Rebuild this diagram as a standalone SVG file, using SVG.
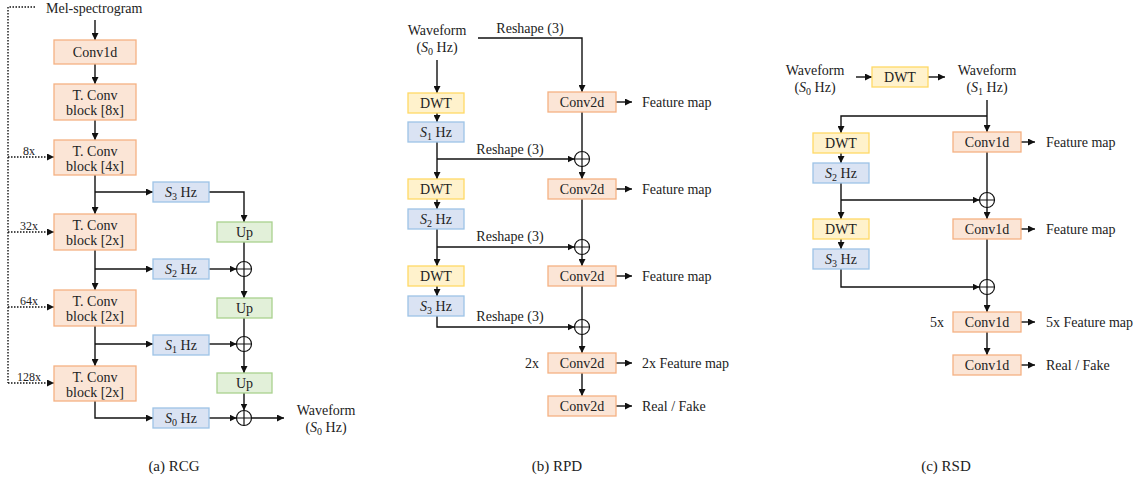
<svg xmlns="http://www.w3.org/2000/svg" width="1142" height="483" viewBox="0 0 1142 483" font-family="'Liberation Serif', Tinos, 'Times New Roman', 'DejaVu Serif', serif">
<style>
text{font-family:'Liberation Serif', Tinos, 'Times New Roman', 'DejaVu Serif', serif}
.t{font-size:14px;fill:#222}
.m{text-anchor:middle}
.s{font-size:12px}
.cap{font-size:15px}
.i{font-style:italic}
.sub{font-size:10px}
.or{fill:#fbe5d6;stroke:#f4b183;stroke-width:1.3}
.bl{fill:#dae3f3;stroke:#9dc3e6;stroke-width:1.3}
.gr{fill:#e2f0d9;stroke:#a9d18e;stroke-width:1.3}
.ye{fill:#fff2cc;stroke:#ffd966;stroke-width:1.3}
.ln{fill:none;stroke:#111;stroke-width:1.4}
.ar{marker-end:url(#ah)}
.dt{fill:none;stroke:#111;stroke-width:1.4;stroke-dasharray:1.5 1.5}
.pc{fill:#fff;stroke:#111;stroke-width:1.2}
</style>
<defs>
<marker id="ah" viewBox="0 0 7 7" refX="7" refY="3.5" markerWidth="7" markerHeight="7" markerUnits="userSpaceOnUse" orient="auto">
<path d="M0,0 L7,3.5 L0,7 z" fill="#111"/>
</marker>
<g id="plus"><circle r="7.5" class="pc"/><path d="M-7.5,0H7.5M0,-7.5V7.5" stroke="#111" stroke-width="1.2"/></g>
</defs>

<!-- connectors -->
<g id="connectors">
<!-- RCG -->
<path class="dt" d="M35,7 H8 V383"/>
<path class="dt ar" d="M8,157 H54"/>
<path class="dt ar" d="M8,232 H54"/>
<path class="dt ar" d="M8,307 H54"/>
<path class="dt ar" d="M8,383 H54"/>
<path class="ln ar" d="M95,20 V40"/>
<path class="ln ar" d="M95,64 V84"/>
<path class="ln ar" d="M95,120 V140"/>
<path class="ln ar" d="M95,175 V214"/>
<path class="ln ar" d="M95,250 V290"/>
<path class="ln ar" d="M95,326 V366"/>
<path class="ln ar" d="M95,192 H153"/>
<path class="ln ar" d="M95,269 H153"/>
<path class="ln ar" d="M95,344 H153"/>
<path class="ln ar" d="M95,401 V418 H153"/>
<path class="ln ar" d="M209,192 H244 V222"/>
<path class="ln ar" d="M244,242 V298"/>
<path class="ln ar" d="M244,318 V373"/>
<path class="ln ar" d="M244,393 V410.5"/>
<path class="ln ar" d="M209,269 H236.5"/>
<path class="ln ar" d="M209,344 H236.5"/>
<path class="ln ar" d="M209,418 H236.5"/>
<path class="ln ar" d="M251.5,418 H284"/>
<!-- RPD -->
<path class="ln ar" d="M437,60 V93"/>
<path class="ln ar" d="M437,113 V122"/>
<path class="ln ar" d="M437,142 V179"/>
<path class="ln ar" d="M437,199 V209"/>
<path class="ln ar" d="M437,229 V266"/>
<path class="ln ar" d="M437,286 V296"/>
<path class="ln ar" d="M437,159 H574.5"/>
<path class="ln ar" d="M437,247 H574.5"/>
<path class="ln ar" d="M437,316 V327 H574.5"/>
<path class="ln ar" d="M478,38 H582 V92"/>
<path class="ln ar" d="M582,112 V179"/>
<path class="ln ar" d="M582,199 V266"/>
<path class="ln ar" d="M582,286 V353"/>
<path class="ln ar" d="M582,373 V396"/>
<path class="ln ar" d="M616,102 H632"/>
<path class="ln ar" d="M616,189 H632"/>
<path class="ln ar" d="M616,276 H632"/>
<path class="ln ar" d="M616,363 H632"/>
<path class="ln ar" d="M616,406 H632"/>
<!-- RSD -->
<path class="ln ar" d="M856,77 H872"/>
<path class="ln ar" d="M928,77 H945"/>
<path class="ln ar" d="M987,100 V132"/>
<path class="ln ar" d="M987,116 H841 V133"/>
<path class="ln ar" d="M841,153 V163"/>
<path class="ln ar" d="M841,183 V219"/>
<path class="ln ar" d="M841,239 V249"/>
<path class="ln ar" d="M841,200 H979.5"/>
<path class="ln ar" d="M841,269 V287 H979.5"/>
<path class="ln ar" d="M987,152 V219"/>
<path class="ln ar" d="M987,239 V312"/>
<path class="ln ar" d="M987,332 V355"/>
<path class="ln ar" d="M1021,142 H1035"/>
<path class="ln ar" d="M1021,229 H1035"/>
<path class="ln ar" d="M1021,322 H1035"/>
<path class="ln ar" d="M1021,365 H1035"/>
</g>

<!-- RCG nodes -->
<g id="mel"><text class="t" x="46" y="13">Mel-spectrogram</text></g>
<g id="rcg-conv1d"><rect class="or" x="54" y="40" width="82" height="24"/><text class="t m" x="95" y="57">Conv1d</text></g>
<g id="rcg-tc8"><rect class="or" x="54" y="84" width="82" height="36"/><text class="t m" x="95" y="100">T. Conv</text><text class="t m" x="95" y="115">block [8x]</text></g>
<g id="rcg-tc4"><rect class="or" x="54" y="140" width="82" height="35"/><text class="t m" x="95" y="156">T. Conv</text><text class="t m" x="95" y="171">block [4x]</text></g>
<g id="rcg-tc2a"><rect class="or" x="54" y="214" width="82" height="36"/><text class="t m" x="95" y="230">T. Conv</text><text class="t m" x="95" y="245">block [2x]</text></g>
<g id="rcg-tc2b"><rect class="or" x="54" y="290" width="82" height="36"/><text class="t m" x="95" y="306">T. Conv</text><text class="t m" x="95" y="321">block [2x]</text></g>
<g id="rcg-tc2c"><rect class="or" x="54" y="366" width="82" height="35"/><text class="t m" x="95" y="382">T. Conv</text><text class="t m" x="95" y="397">block [2x]</text></g>
<g id="rcg-labels">
<text class="t s m" x="29" y="155">8x</text>
<text class="t s m" x="29" y="230">32x</text>
<text class="t s m" x="29" y="305">64x</text>
<text class="t s m" x="29" y="381">128x</text>
</g>
<g id="rcg-s3"><rect class="bl" x="153" y="182" width="56" height="20"/><text class="t m" x="181" y="197"><tspan class="i">S</tspan><tspan class="sub" dy="3">3</tspan><tspan dy="-3"> Hz</tspan></text></g>
<g id="rcg-s2"><rect class="bl" x="153" y="259" width="56" height="20"/><text class="t m" x="181" y="274"><tspan class="i">S</tspan><tspan class="sub" dy="3">2</tspan><tspan dy="-3"> Hz</tspan></text></g>
<g id="rcg-s1"><rect class="bl" x="153" y="335" width="56" height="20"/><text class="t m" x="181" y="350"><tspan class="i">S</tspan><tspan class="sub" dy="3">1</tspan><tspan dy="-3"> Hz</tspan></text></g>
<g id="rcg-s0"><rect class="bl" x="153" y="408" width="56" height="20"/><text class="t m" x="181" y="423"><tspan class="i">S</tspan><tspan class="sub" dy="3">0</tspan><tspan dy="-3"> Hz</tspan></text></g>
<g id="rcg-up1"><rect class="gr" x="217" y="222" width="55" height="20"/><text class="t m" x="244.5" y="237">Up</text></g>
<g id="rcg-up2"><rect class="gr" x="217" y="298" width="55" height="20"/><text class="t m" x="244.5" y="313">Up</text></g>
<g id="rcg-up3"><rect class="gr" x="217" y="373" width="55" height="20"/><text class="t m" x="244.5" y="388">Up</text></g>
<g id="rcg-add1"><use href="#plus" x="244" y="269"/></g>
<g id="rcg-add2"><use href="#plus" x="244" y="344"/></g>
<g id="rcg-add3"><use href="#plus" x="244" y="418"/></g>
<g id="rcg-out"><text class="t m" x="326" y="415">Waveform</text><text class="t m" x="326" y="432">(<tspan class="i">S</tspan><tspan class="sub" dy="3">0</tspan><tspan dy="-3"> Hz)</tspan></text></g>

<!-- RPD nodes -->
<g id="rpd-in"><text class="t m" x="437" y="35">Waveform</text><text class="t m" x="437" y="52">(<tspan class="i">S</tspan><tspan class="sub" dy="3">0</tspan><tspan dy="-3"> Hz)</tspan></text></g>
<g id="rpd-reshape"><text class="t m" x="530" y="33">Reshape (3)</text><text class="t m" x="510" y="154">Reshape (3)</text><text class="t m" x="510" y="241">Reshape (3)</text><text class="t m" x="510" y="321">Reshape (3)</text></g>
<g id="rpd-dwt1"><rect class="ye" x="408" y="93" width="56" height="20"/><text class="t m" x="436" y="108">DWT</text></g>
<g id="rpd-s1"><rect class="bl" x="408" y="122" width="56" height="20"/><text class="t m" x="436" y="137"><tspan class="i">S</tspan><tspan class="sub" dy="3">1</tspan><tspan dy="-3"> Hz</tspan></text></g>
<g id="rpd-dwt2"><rect class="ye" x="408" y="179" width="56" height="20"/><text class="t m" x="436" y="194">DWT</text></g>
<g id="rpd-s2"><rect class="bl" x="408" y="209" width="56" height="20"/><text class="t m" x="436" y="224"><tspan class="i">S</tspan><tspan class="sub" dy="3">2</tspan><tspan dy="-3"> Hz</tspan></text></g>
<g id="rpd-dwt3"><rect class="ye" x="408" y="266" width="56" height="20"/><text class="t m" x="436" y="281">DWT</text></g>
<g id="rpd-s3"><rect class="bl" x="408" y="296" width="56" height="20"/><text class="t m" x="436" y="311"><tspan class="i">S</tspan><tspan class="sub" dy="3">3</tspan><tspan dy="-3"> Hz</tspan></text></g>
<g id="rpd-c1"><rect class="or" x="548" y="92" width="68" height="20"/><text class="t m" x="582" y="107">Conv2d</text></g>
<g id="rpd-c2"><rect class="or" x="548" y="179" width="68" height="20"/><text class="t m" x="582" y="194">Conv2d</text></g>
<g id="rpd-c3"><rect class="or" x="548" y="266" width="68" height="20"/><text class="t m" x="582" y="281">Conv2d</text></g>
<g id="rpd-c4"><rect class="or" x="548" y="353" width="68" height="20"/><text class="t m" x="582" y="368">Conv2d</text></g>
<g id="rpd-c5"><rect class="or" x="548" y="396" width="68" height="20"/><text class="t m" x="582" y="411">Conv2d</text></g>
<g id="rpd-add1"><use href="#plus" x="582" y="159"/></g>
<g id="rpd-add2"><use href="#plus" x="582" y="247"/></g>
<g id="rpd-add3"><use href="#plus" x="582" y="327"/></g>
<g id="rpd-labels">
<text class="t" x="642" y="107">Feature map</text>
<text class="t" x="642" y="194">Feature map</text>
<text class="t" x="642" y="281">Feature map</text>
<text class="t" x="642" y="368">2x Feature map</text>
<text class="t" x="642" y="411">Real / Fake</text>
<text class="t m" x="532" y="368">2x</text>
</g>

<!-- RSD nodes -->
<g id="rsd-in"><text class="t m" x="815" y="75">Waveform</text><text class="t m" x="815" y="92">(<tspan class="i">S</tspan><tspan class="sub" dy="3">0</tspan><tspan dy="-3"> Hz)</tspan></text></g>
<g id="rsd-dwt0"><rect class="ye" x="872" y="67" width="56" height="20"/><text class="t m" x="900" y="82">DWT</text></g>
<g id="rsd-w1"><text class="t m" x="987" y="75">Waveform</text><text class="t m" x="987" y="92">(<tspan class="i">S</tspan><tspan class="sub" dy="3">1</tspan><tspan dy="-3"> Hz)</tspan></text></g>
<g id="rsd-dwt2"><rect class="ye" x="813" y="133" width="56" height="20"/><text class="t m" x="841" y="148">DWT</text></g>
<g id="rsd-s2"><rect class="bl" x="813" y="163" width="56" height="20"/><text class="t m" x="841" y="178"><tspan class="i">S</tspan><tspan class="sub" dy="3">2</tspan><tspan dy="-3"> Hz</tspan></text></g>
<g id="rsd-dwt3"><rect class="ye" x="813" y="219" width="56" height="20"/><text class="t m" x="841" y="234">DWT</text></g>
<g id="rsd-s3"><rect class="bl" x="813" y="249" width="56" height="20"/><text class="t m" x="841" y="264"><tspan class="i">S</tspan><tspan class="sub" dy="3">3</tspan><tspan dy="-3"> Hz</tspan></text></g>
<g id="rsd-c1"><rect class="or" x="953" y="132" width="68" height="20"/><text class="t m" x="987" y="147">Conv1d</text></g>
<g id="rsd-c2"><rect class="or" x="953" y="219" width="68" height="20"/><text class="t m" x="987" y="234">Conv1d</text></g>
<g id="rsd-c3"><rect class="or" x="953" y="312" width="68" height="20"/><text class="t m" x="987" y="327">Conv1d</text></g>
<g id="rsd-c4"><rect class="or" x="953" y="355" width="68" height="20"/><text class="t m" x="987" y="370">Conv1d</text></g>
<g id="rsd-add1"><use href="#plus" x="987" y="200"/></g>
<g id="rsd-add2"><use href="#plus" x="987" y="287"/></g>
<g id="rsd-labels">
<text class="t" x="1046" y="147">Feature map</text>
<text class="t" x="1046" y="234">Feature map</text>
<text class="t" x="1046" y="327">5x Feature map</text>
<text class="t" x="1046" y="370">Real / Fake</text>
<text class="t m" x="937" y="327">5x</text>
</g>

<!-- captions -->
<g id="captions">
<text class="t cap m" x="174" y="471">(a) RCG</text>
<text class="t cap m" x="557" y="471">(b) RPD</text>
<text class="t cap m" x="946" y="471">(c) RSD</text>
</g>
</svg>
